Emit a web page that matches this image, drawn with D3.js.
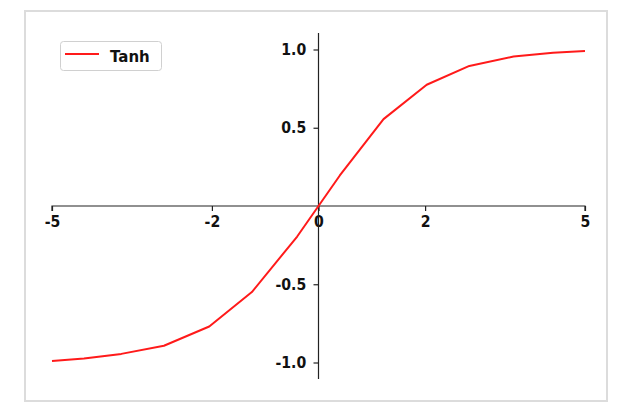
<!DOCTYPE html>
<html><head><meta charset="utf-8">
<script src="https://cdn.jsdelivr.net/npm/d3@7"></script>
<style>
html,body{margin:0;padding:0;background:#fff;}
svg{display:block;}
text{font-family:"DejaVu Sans",sans-serif;font-weight:bold;fill:#111;}
</style></head>
<body><svg id="c" width="636" height="406"></svg>
<script>
const seriesName = "Tanh";
const xValues = [-5, -4.4, -3.7, -2.9, -2.05, -1.25, -0.4, 0.4, 1.22, 2.03, 2.83, 3.66, 4.4, 5];
const yValues = [-0.99, -0.975, -0.945, -0.893, -0.77, -0.55, -0.195, 0.195, 0.555, 0.775, 0.895, 0.955, 0.98, 0.99];
const xTicks = [-5, -2, 0, 2, 5];
const yTicks = [-1.0, -0.5, 0.5, 1.0];

const svg = d3.select("#c");
// outer frame
svg.append("rect").attr("x",25).attr("y",11).attr("width",582).attr("height",390)
  .attr("fill","#fff").attr("stroke","#dcdcdc").attr("stroke-width",2);

const x = d3.scaleLinear().domain([-5,5]).range([52,585]);
const y = d3.scaleLinear().domain([-1,1]).range([362.5,49.5]);

// x spine at y=0
const xAxis = d3.axisBottom(x).tickValues(xTicks).tickSize(5).tickPadding(5)
  .tickFormat(d=>d3.format("d")(d).replace("−","-"));
const gx = svg.append("g").attr("transform",`translate(0,${y(0)})`).call(xAxis);
gx.select(".domain").attr("stroke","#222").attr("stroke-width",1.2).attr("d",`M${x(-5)},5V0H${x(5)}V5`);
gx.selectAll(".tick line").attr("stroke","#222").attr("stroke-width",1.2);
gx.selectAll(".tick text").attr("font-size","16px").attr("fill","#111")
  .attr("transform","scale(0.88,1)")
  .style("font-family","DejaVu Sans").style("font-weight","bold");

// y spine at x=0
const yAxis = d3.axisLeft(y).tickValues(yTicks).tickSize(5).tickPadding(9)
  .tickFormat(d=>d3.format(".1f")(d).replace("−","-"));
const gy = svg.append("g").attr("transform",`translate(${x(0)},0)`).call(yAxis);
gy.select(".domain").attr("stroke","#222").attr("stroke-width",1.2).attr("d",`M0,33V379`);
gy.selectAll(".tick line").attr("stroke","#222").attr("stroke-width",1.2);
gy.selectAll(".tick text").attr("font-size","16px").attr("fill","#111")
  .attr("transform","scale(0.88,1)")
  .style("font-family","DejaVu Sans").style("font-weight","bold");

// data line
const data = xValues.map((v,i)=>({x:v,y:yValues[i]}));
svg.append("path").datum(data)
  .attr("fill","none").attr("stroke","#ff1a1a").attr("stroke-width",2)
  .attr("stroke-linejoin","round")
  .attr("d", d3.line().x(d=>x(d.x)).y(d=>y(d.y)));

// legend
const lg = svg.append("g");
lg.append("rect").attr("x",60.5).attr("y",41.5).attr("width",101).attr("height",29).attr("rx",3)
  .attr("fill","#fff").attr("stroke","#d0d0d0").attr("stroke-width",1);
lg.append("line").attr("x1",65).attr("x2",99).attr("y1",54).attr("y2",54)
  .attr("stroke","#ff1a1a").attr("stroke-width",2);
lg.append("text").attr("x",110).attr("y",61.5).attr("font-size","15px").text(seriesName);
</script></body></html>
